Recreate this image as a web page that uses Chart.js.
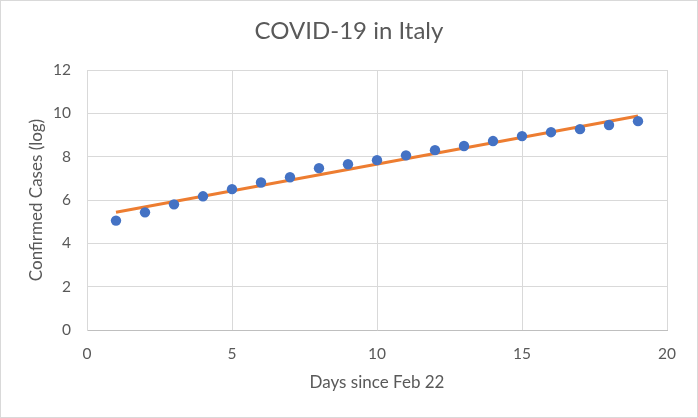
<!DOCTYPE html>
<html>
<head>
<meta charset="utf-8">
<script src="https://cdn.jsdelivr.net/npm/chart.js@4"></script>
<style>
html,body{margin:0;padding:0;background:#fff;}
#wrap{position:absolute;left:0;top:0;width:698px;height:418px;box-sizing:border-box;border:1px solid #d9d9d9;background:#fff;}
canvas{display:block;}
</style>
</head>
<body>
<div id="wrap"><canvas id="c" width="696" height="416"></canvas></div>
<script>
const chartTitle = "COVID-19 in Italy";
const xTitle = "Days since Feb 22";
const yTitle = "Confirmed Cases (log)";
const days = [1,2,3,4,5,6,7,8,9,10,11,12,13,14,15,16,17,18,19];
const logCases = [5.05,5.43,5.80,6.17,6.50,6.81,7.05,7.47,7.65,7.84,8.06,8.30,8.49,8.72,8.95,9.13,9.27,9.46,9.64];
const trendX = [1,19];
const trendY = [5.43,9.88];

const FONT = "Lato, 'Open Sans', sans-serif";
const TEXT = "#595959";

const points = days.map((d,i)=>({x:d,y:logCases[i]}));
const trend = trendX.map((d,i)=>({x:d,y:trendY[i]}));

new Chart(document.getElementById('c'), {
  type: 'scatter',
  data: {
    datasets: [
      {
        label: 'Cases',
        data: points,
        backgroundColor: '#4472C4',
        borderColor: '#4472C4',
        pointRadius: 5.2,
        pointBorderWidth: 0,
        order: 1
      },
      {
        label: 'Trend',
        data: trend,
        showLine: true,
        borderColor: '#ED7D31',
        borderWidth: 3,
        pointRadius: 0,
        fill: false,
        order: 2
      }
    ]
  },
  options: {
    responsive: false,
    animation: false,
    devicePixelRatio: 1,
    layout: { padding: 0 },
    plugins: {
      legend: { display: false },
      tooltip: { enabled: false },
      title: {
        display: true,
        text: chartTitle,
        color: TEXT,
        font: { family: FONT, size: 24, weight: 'normal' },
        padding: { top: 15.6, bottom: 24.6 }
      }
    },
    scales: {
      x: {
        type: 'linear',
        min: 0, max: 20,
        afterFit: s => { s.height = 87; },
        ticks: { stepSize: 5, color: TEXT, font: { family: FONT, size: 15.5 }, padding: 14.5 },
        grid: { color: '#d9d9d9', drawTicks: false, lineWidth: 1 },
        border: { color: '#bfbfbf', width: 1 },
        title: { display: true, text: xTitle, color: TEXT, font: { family: FONT, size: 17 }, padding: { top: 0, bottom: 23.8 } }
      },
      y: {
        type: 'linear',
        min: 0, max: 12,
        afterFit: s => { s.width = 86; },
        ticks: { stepSize: 2, color: TEXT, font: { family: FONT, size: 15.5 }, padding: 16 },
        grid: { color: '#d9d9d9', drawTicks: false, lineWidth: 1 },
        border: { color: '#d9d9d9', width: 1 },
        title: { display: true, text: yTitle, color: TEXT, font: { family: FONT, size: 17 }, padding: { top: 25.5, bottom: 0 } }
      },
      ySpacer: {
        type: 'linear',
        position: 'right',
        min: 0, max: 12,
        afterFit: s => { s.width = 30; },
        ticks: { display: false },
        grid: { display: false, drawTicks: false },
        border: { display: false },
        title: { display: false }
      }
    }
  }
});
</script>
</body>
</html>
